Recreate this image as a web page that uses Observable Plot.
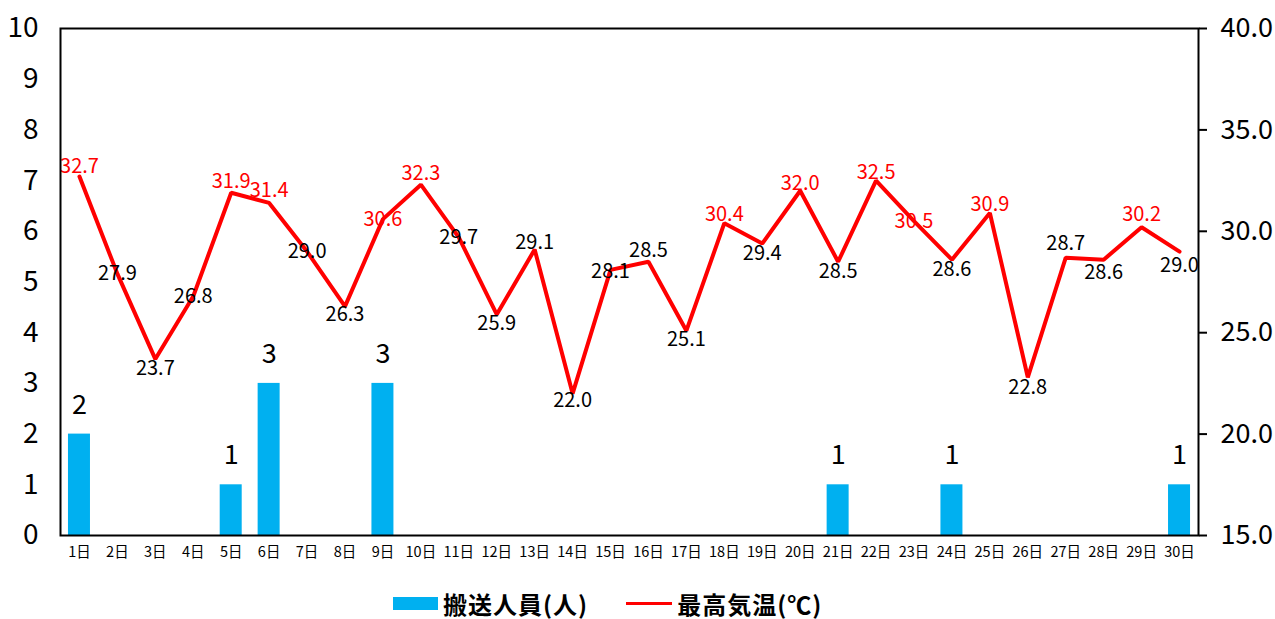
<!DOCTYPE html>
<html>
<head>
<meta charset="utf-8">
<script src="https://cdn.jsdelivr.net/npm/d3@7"></script>
<script src="https://cdn.jsdelivr.net/npm/@observablehq/plot@0.6"></script>
<style>
  body { margin: 0; background: #fff; font-family: "Noto Sans CJK JP", sans-serif; }
  #legend { height: 39px; display: flex; align-items: center; padding-top: 8px; padding-left: 393px; box-sizing: border-box; font-weight: bold; font-size: 24px; letter-spacing: 1px; line-height: 1; color: #000; }
  #legend span { line-height: 1; }
  .sw-bar { width: 45px; height: 13px; background: #00B0F0; margin-right: 5px; }
  .sw-line { width: 46px; height: 3px; background: #FF0000; margin-right: 5px; margin-left: 38px; }
</style>
</head>
<body>
<div id="chart"></div>
<div id="legend"></div>
<script>
const days = ["1日","2日","3日","4日","5日","6日","7日","8日","9日","10日","11日","12日","13日","14日","15日","16日","17日","18日","19日","20日","21日","22日","23日","24日","25日","26日","27日","28日","29日","30日"];
const transported = [2,0,0,0,1,3,0,0,3,0,0,0,0,0,0,0,0,0,0,0,1,0,0,1,0,0,0,0,0,1];
const maxTemp = [32.7,27.9,23.7,26.8,31.9,31.4,29.0,26.3,30.6,32.3,29.7,25.9,29.1,22.0,28.1,28.5,25.1,30.4,29.4,32.0,28.5,32.5,30.5,28.6,30.9,22.8,28.7,28.6,30.2,29.0];
const leftTicks = [0,1,2,3,4,5,6,7,8,9,10];
const rightTicks = [15,20,25,30,35,40];
const seriesNames = ["搬送人員(人)", "最高気温(℃)"];
// label vertical offsets in px (style only)
const labelDy = [-10,0,10,0,-11,-12,0,8,0,-11,0,9,-7,7,2,-11,9,-9,10,-7,10,-8,0,10,-8,10,-14,13,-13,14];

const T0 = 15, T1 = 40;
const toLeft = t => (t - T0) / (T1 - T0) * 10;

const rows = days.map((d, i) => ({day: d, n: transported[i], t: maxTemp[i], ty: toLeft(maxTemp[i]), dy: labelDy[i]}));
const font = "'Noto Sans CJK JP', sans-serif";

const tempLabels = rows.map(r => Plot.text([r], {
  x: "day", y: "ty", text: d => d.t.toFixed(1), fontSize: 20,
  fill: d => d.t >= 30 ? "#FF0000" : "#000", dy: r.dy
}));

const chart = Plot.plot({
  width: 1275,
  height: 580,
  marginTop: 28,
  marginBottom: 45,
  marginLeft: 60,
  marginRight: 77,
  style: {fontFamily: font, fontSize: "14px", color: "#000", background: "#fff"},
  x: {type: "band", domain: days, paddingInner: 0.42, paddingOuter: 0.21, round: false},
  y: {domain: [0, 10]},
  marks: [
    Plot.barY(rows.filter(r => r.n > 0), {x: "day", y: "n", fill: "#00B0F0"}),
    Plot.text(rows.filter(r => r.n > 0), {x: "day", y: "n", text: d => String(d.n), dy: -29, fontSize: 27, fill: "#000"}),
    Plot.line(rows, {x: "day", y: "ty", stroke: "#FF0000", strokeWidth: 4, strokeLinejoin: "miter"}),
    ...tempLabels,
    Plot.frame({stroke: "#000", strokeWidth: 2}),
    Plot.axisX({tickSize: 0, tickPadding: 11, fontSize: 14.5, label: null}),
    Plot.axisY({anchor: "left", ticks: leftTicks, tickSize: 0, tickPadding: 22, fontSize: 28, label: null}),
    Plot.axisY({anchor: "right", ticks: rightTicks.map(toLeft), tickFormat: v => (T0 + v / 10 * (T1 - T0)).toFixed(1), tickSize: 8, tickPadding: 14, fontSize: 27, label: null, strokeWidth: 2})
  ]
});
document.getElementById("chart").appendChild(chart);

const legend = document.getElementById("legend");
legend.innerHTML = `<div class="sw-bar"></div><span>${seriesNames[0]}</span><div class="sw-line"></div><span>${seriesNames[1]}</span>`;
</script>
</body>
</html>
